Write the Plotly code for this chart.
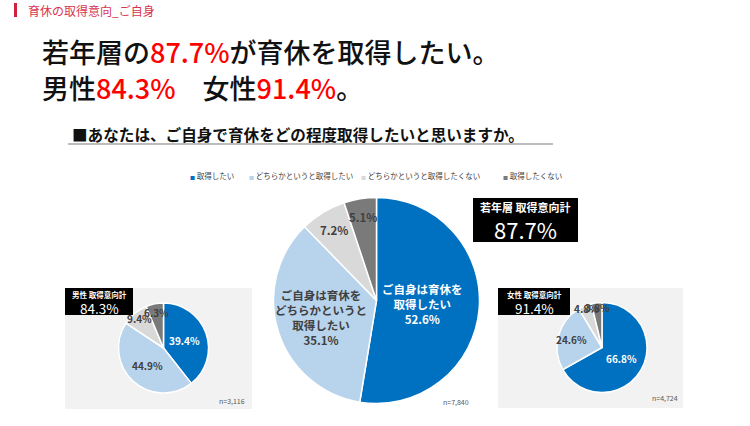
import math
import plotly.graph_objects as go

# ---------------- data ----------------
categories = ["取得したい", "どちらかというと取得したい", "どちらかというと取得したくない", "取得したくない"]
total_values = [52.6, 35.1, 7.2, 5.1]
male_values = [39.4, 44.9, 9.4, 6.3]
female_values = [66.8, 24.6, 4.8, 3.8]
total_label_prefix = ["ご自身は育休を<br>取得したい<br>", "ご自身は育休を<br>どちらかというと<br>取得したい<br>", "", ""]
intent_total = 87.7
intent_male = 84.3
intent_female = 91.4
n_total = "7,840"
n_male = "3,116"
n_female = "4,724"

# ---------------- style ----------------
W, H = 750, 426
FONT = "Noto Sans CJK JP"
colors = ["#0070C0", "#B8D3EC", "#D9D9D9", "#7A7A7A"]
text_colors = ["#FFFFFF", "#404040", "#404040", "#404040"]
RED = "#FF0000"


def px(x):
    return x / W


def py(y):
    return 1 - y / H


def ann(x, y, text, size, color, xanchor="center", yanchor="middle", **kw):
    return dict(x=px(x), y=py(y), xref="paper", yref="paper", showarrow=False, text=text,
                xanchor=xanchor, yanchor=yanchor, borderpad=0,
                font=dict(family=FONT, size=size, color=color, **kw))


pies = {
    "total": dict(values=total_values, cx=376.5, cy=300.5, r=103, frac=[0.45, 0.56, 0.80, 0.82],
                  size=11.5, prefix=total_label_prefix),
    "male": dict(values=male_values, cx=163.5, cy=348, r=45, frac=[0.50, 0.53, 0.84, 0.80],
                 size=10, prefix=["", "", "", ""]),
    "female": dict(values=female_values, cx=602, cy=347.5, r=45, frac=[0.49, 0.71, 0.93, 0.89],
                   size=10, prefix=["", "", "", ""]),
}

fig = go.Figure()
annotations = []
shapes = []

# background panels for small pies
shapes.append(dict(type="rect", xref="paper", yref="paper", x0=px(65), x1=px(252), y0=py(409), y1=py(288),
                   fillcolor="#F2F2F2", line=dict(width=0), layer="below"))
shapes.append(dict(type="rect", xref="paper", yref="paper", x0=px(498), x1=px(683), y0=py(408), y1=py(288),
                   fillcolor="#F2F2F2", line=dict(width=0), layer="below"))

for name, p in pies.items():
    cx, cy, r = p["cx"], p["cy"], p["r"]
    fig.add_trace(go.Pie(
        values=p["values"], labels=categories, sort=False, direction="clockwise", rotation=0,
        marker=dict(colors=colors, line=dict(color="white", width=1.5)),
        textinfo="none", hoverinfo="label+percent", showlegend=False,
        domain=dict(x=[px(cx - r), px(cx + r)], y=[py(cy + r), py(cy - r)]),
    ))
    tot = sum(p["values"])
    cum = 0.0
    for i, v in enumerate(p["values"]):
        theta = 2 * math.pi * (cum + v / 2) / tot
        cum += v
        lx = cx + p["frac"][i] * r * math.sin(theta)
        ly = cy - p["frac"][i] * r * math.cos(theta)
        annotations.append(ann(lx, ly, "<b>" + p["prefix"][i] + f"{v:.1f}%" + "</b>",
                               p["size"], text_colors[i]))

# header
shapes.append(dict(type="rect", xref="paper", yref="paper", x0=px(14), x1=px(17), y0=py(17), y1=py(3),
                   fillcolor="#D0213F", line=dict(width=0)))
annotations.append(ann(27, 10, "育休の取得意向_ご自身", 12, "#D9344C", xanchor="left"))
annotations.append(ann(41, 51.5, f"若年層の<span style='color:{RED}'>{intent_total}%</span>が育休を取得したい。",
                       27, "#111111", xanchor="left", weight=500))
annotations.append(ann(41, 87.5, f"男性<span style='color:{RED}'>{intent_male}%</span>　女性<span style='color:{RED}'>{intent_female}%</span>。",
                       27, "#111111", xanchor="left", weight=500))

# question
annotations.append(ann(71, 134, "<b>■あなたは、ご自身で育休をどの程度取得したいと思いますか。</b>",
                       15.6, "#111111", xanchor="left"))
shapes.append(dict(type="line", xref="paper", yref="paper", x0=px(68), x1=px(553), y0=py(144), y1=py(144),
                   line=dict(color="#A6A6A6", width=1.5)))

# legend
legend_x = [189, 248, 360, 502]
for i, cat in enumerate(categories):
    annotations.append(ann(legend_x[i], 175,
                           f"<span style='color:{colors[i]};font-size:5px'>■</span> {cat}",
                           7.5, "#404040", xanchor="left"))

# intent boxes
boxes = [
    dict(x0=473, x1=578, y0=198, y1=242, t1="若年層 取得意向計", t2=f"{intent_total}%", s1=11, s2=22, ty1=206.5, ty2=229),
    dict(x0=65, x1=133, y0=288, y1=315, t1="男性 取得意向計", t2=f"{intent_male}%", s1=7.5, s2=13.5, ty1=294, ty2=307.5),
    dict(x0=498, x1=570, y0=288, y1=315, t1="女性 取得意向計", t2=f"{intent_female}%", s1=7.5, s2=13.5, ty1=294, ty2=307.5),
]
for b in boxes:
    shapes.append(dict(type="rect", xref="paper", yref="paper", x0=px(b["x0"]), x1=px(b["x1"]),
                       y0=py(b["y1"]), y1=py(b["y0"]), fillcolor="#000000", line=dict(width=0)))
    xc = (b["x0"] + b["x1"]) / 2
    annotations.append(ann(xc, b["ty1"], f"<b>{b['t1']}</b>", b["s1"], "white"))
    annotations.append(ann(xc, b["ty2"], b["t2"], b["s2"], "white"))

# sample sizes
for txt, x, y, anchor in [(f"n={n_male}", 246, 401, "right"), (f"n={n_total}", 442, 402, "left"),
                          (f"n={n_female}", 679, 398, "right")]:
    annotations.append(ann(x, y, txt, 7, "#595959", xanchor=anchor))

fig.update_layout(
    width=W, height=H, margin=dict(l=0, r=0, t=0, b=0),
    paper_bgcolor="white", plot_bgcolor="white",
    shapes=shapes, annotations=annotations, showlegend=False,
    font=dict(family=FONT),
)

fig.write_html("out.html", config={"displayModeBar": False},
               post_script="document.body.style.margin='0';document.body.style.overflow='hidden';")
